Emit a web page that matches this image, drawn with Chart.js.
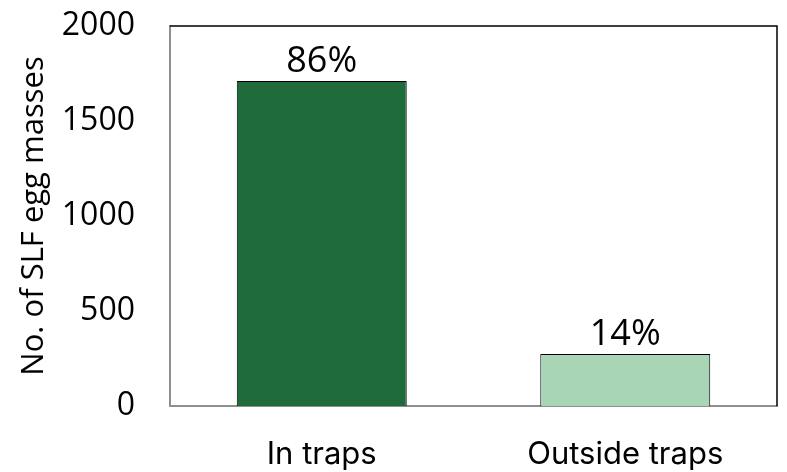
<!DOCTYPE html>
<html>
<head>
<meta charset="utf-8">
<script src="https://cdn.jsdelivr.net/npm/chart.js@4"></script>
<style>
  html, body { margin: 0; padding: 0; background: #fff; }
  #wrap { width: 787px; height: 472px; }
</style>
</head>
<body>
<div id="wrap"><canvas id="chart"></canvas></div>
<script>
// data
var categories = ['In traps', 'Outside traps'];
var eggMasses = [1710, 274];
var shareLabels = ['86%', '14%'];
var barColors = ['#1f6b3b', '#a9d5b7'];
var yTicks = [0, 500, 1000, 1500, 2000];

// top and right frame lines, black
var framePlugin = {
  id: 'frame',
  afterDraw: function (chart) {
    var a = chart.chartArea, ctx = chart.ctx;
    ctx.save();
    ctx.strokeStyle = '#000';
    ctx.lineWidth = 1.5;
    ctx.beginPath();
    ctx.moveTo(a.left, a.top);
    ctx.lineTo(a.right, a.top);
    ctx.lineTo(a.right, a.bottom);
    ctx.stroke();
    ctx.restore();
  }
};

// percentage above each bar
var shareLabelPlugin = {
  id: 'shareLabels',
  afterDatasetsDraw: function (chart) {
    var ctx = chart.ctx;
    var meta = chart.getDatasetMeta(0);
    ctx.save();
    ctx.font = '36px "Open Sans"';
    ctx.fillStyle = '#000';
    ctx.textAlign = 'center';
    ctx.textBaseline = 'alphabetic';
    meta.data.forEach(function (bar, i) {
      ctx.fillText(shareLabels[i], bar.x, bar.y - 9);
    });
    ctx.restore();
  }
};

var ctx = document.getElementById('chart').getContext('2d');
var chart = new Chart(ctx, {
  type: 'bar',
  data: {
    labels: categories,
    datasets: [{
      data: eggMasses,
      backgroundColor: barColors,
      borderColor: '#000',
      borderWidth: 1,
      barPercentage: 0.56,
      categoryPercentage: 1
    }]
  },
  options: {
    responsive: true,
    maintainAspectRatio: false,
    animation: false,
    layout: { padding: { top: 26, right: 10, bottom: 0, left: 0 } },
    plugins: {
      legend: { display: false },
      tooltip: { enabled: false }
    },
    scales: {
      x: {
        grid: { display: false, drawTicks: false },
        border: { display: true, color: '#8f8f8f', width: 2 },
        ticks: {
          color: '#000',
          padding: 30,
          font: { family: 'Inter', size: 31 }
        },
        afterFit: function (scale) { scale.height = 66; }
      },
      y: {
        min: 0,
        max: 2000,
        grid: { display: false, drawTicks: false },
        border: { display: true, color: '#8f8f8f', width: 2 },
        afterBuildTicks: function (scale) {
          scale.ticks = yTicks.map(function (v) { return { value: v }; });
        },
        ticks: {
          color: '#000',
          padding: 35,
          font: { family: 'Open Sans', size: 32 },
          callback: function (v) { return String(v); }
        },
        title: {
          display: true,
          text: 'No. of SLF egg masses',
          color: '#000',
          padding: { top: 16, bottom: 0 },
          font: { family: 'Open Sans', size: 31 }
        },
        afterFit: function (scale) {
          scale.width = 170;
          scale.paddingTop = 0;
          scale.paddingBottom = 0;
        }
      }
    }
  },
  plugins: [framePlugin, shareLabelPlugin]
});
</script>
</body>
</html>
